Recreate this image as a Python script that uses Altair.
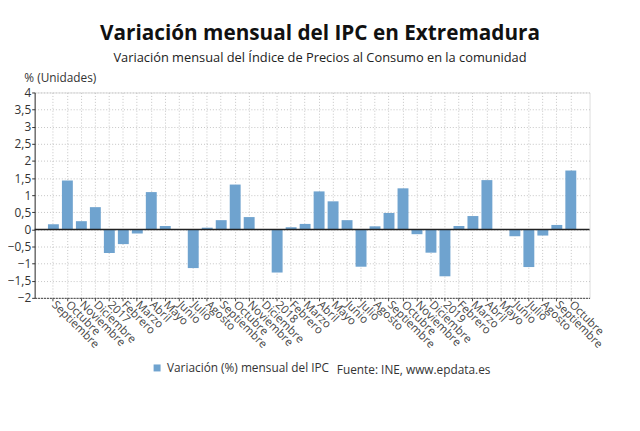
import altair as alt
import pandas as pd

labels = ["Septiembre", "Octubre", "Noviembre", "Diciembre", "2017", "Febrero", "Marzo", "Abril",
          "Mayo", "Junio", "Julio", "Agosto", "Septiembre", "Octubre", "Noviembre", "Diciembre",
          "2018", "Febrero", "Marzo", "Abril", "Mayo", "Junio", "Julio", "Agosto", "Septiembre",
          "Octubre", "Noviembre", "Diciembre", "2019", "Febrero", "Marzo", "Abril", "Mayo", "Junio",
          "Julio", "Agosto", "Septiembre", "Octubre"]
values = [0.15, 1.43, 0.24, 0.65, -0.69, -0.43, -0.12, 1.09, 0.10, 0.0, -1.13, 0.05, 0.27, 1.31,
          0.36, 0.0, -1.26, 0.06, 0.16, 1.11, 0.82, 0.27, -1.09, 0.09, 0.48, 1.20, -0.14, -0.68,
          -1.37, 0.10, 0.39, 1.44, 0.0, -0.20, -1.10, -0.18, 0.13, 1.72]
y_ticks = [-2, -1.5, -1, -0.5, 0, 0.5, 1, 1.5, 2, 2.5, 3, 3.5, 4]
series_name = "Variación (%) mensual del IPC"
source_text = "Fuente: INE, www.epdata.es"

df = pd.DataFrame({"idx": list(range(len(values))), "valor": values, "serie": series_name})
label_expr = "[" + ",".join("'" + l + "'" for l in labels) + "][datum.value]"

FONT = "Open Sans"
BAR = "#6fa3cf"
GRID = "#c4c4c4"

y_axis = alt.Axis(values=y_ticks,
                  labelExpr="replace(format(datum.value, ''), '.', ',')",
                  labelOverlap=False, labelFlush=False,
                  labelFontSize=12, labelColor="#333", labelFont=FONT, labelPadding=1,
                  domainColor="#333", tickColor="#333", tickSize=3,
                  grid=True, gridColor=GRID, gridDash=[1, 2],
                  titleAngle=0, titleAlign="left", titleBaseline="alphabetic",
                  titleX=-11, titleY=-11, titleFontSize=12, titleFontWeight="normal",
                  titleColor="#333", titleFont=FONT)
y_scale = alt.Scale(domain=[-2, 4], nice=False)

bars = alt.Chart(df).mark_bar(color=BAR).encode(
    x=alt.X("idx:O", title=None,
            scale=alt.Scale(paddingInner=0.22, paddingOuter=0.95),
            axis=alt.Axis(labelExpr=label_expr, labelAngle=45, labelAlign="left",
                          labelBaseline="middle", labelFontSize=11.5, labelColor="#444",
                          labelFont=FONT, labelPadding=2, labelOverlap=False,
                          domainColor="#444", domainDash=[2, 1], tickColor="#444",
                          tickSize=3, grid=True, gridColor=GRID, gridDash=[1, 2])),
    y=alt.Y("valor:Q", title="% (Unidades)", scale=y_scale, axis=y_axis),
    color=alt.Color("serie:N", scale=alt.Scale(range=[BAR]),
                    legend=alt.Legend(title=None, orient="none", legendX=118, legendY=273,
                                      symbolType="square", symbolSize=50, labelFontSize=12,
                                      labelFont=FONT, labelColor="#333", labelLimit=0)),
)

zero = alt.Chart(pd.DataFrame({"valor": [0]})).mark_rule(color="#222", strokeWidth=1.5).encode(
    y=alt.Y("valor:Q", title="% (Unidades)", scale=y_scale, axis=y_axis))

source = alt.Chart(pd.DataFrame({"t": [source_text]})).mark_text(
    align="left", baseline="middle", fontSize=12, font=FONT, color="#333"
).encode(text="t:N", x=alt.value(306), y=alt.value(281))

chart = alt.layer(bars, zero, source).properties(
    width=562, height=208,
    autosize=alt.AutoSizeParams(type="none"),
    padding={"left": 27, "top": 83, "right": 43, "bottom": 110},
    title=alt.TitleParams(
        text="Variación mensual del IPC en Extremadura",
        subtitle="Variación mensual del Índice de Precios al Consumo en la comunidad",
        font=FONT, fontSize=21, fontWeight="bold", color="#111",
        subtitleFont=FONT, subtitleFontSize=13, subtitleColor="#222",
        anchor="middle", offset=7, subtitlePadding=8, dx=8),
).configure_view(stroke=GRID, strokeDash=[1, 2]).configure(background="white")

chart.save("out.html", embed_options={"renderer": "svg", "actions": False})
